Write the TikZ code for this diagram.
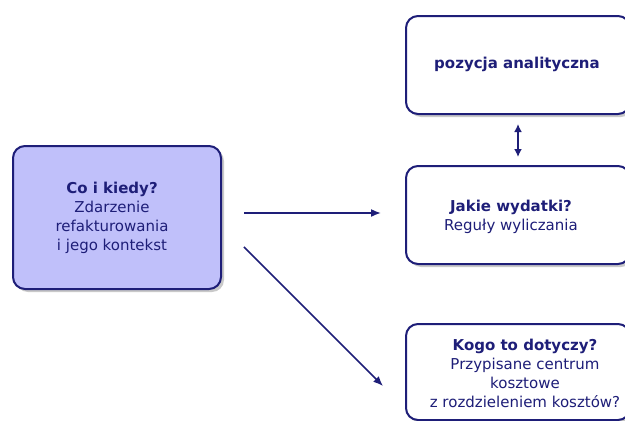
\documentclass[tikz,border=0pt]{standalone}
\usepackage{fontspec}
\setmainfont{DejaVu Sans}
\usetikzlibrary{shadows,arrows.meta}
\definecolor{navy}{HTML}{1E1E78}
\definecolor{lav}{HTML}{C0C0FA}
\tikzset{
  card/.style={draw=navy, line width=2pt, rounded corners=12pt, fill=white,
    drop shadow={shadow xshift=3pt, shadow yshift=-3pt, opacity=0.35, fill=black!60}},
  lbl/.style={text=navy, align=center, font=\fontsize{15}{19}\selectfont, inner sep=0pt},
  conn/.style={draw=navy, line width=1.6pt, -{Latex[length=10pt,width=8pt]}},
  dconn/.style={draw=navy, line width=1.6pt, {Latex[length=8pt,width=8pt]}-{Latex[length=8pt,width=8pt]}}
}
\begin{document}
\begin{tikzpicture}[x=1pt,y=-1pt]
\useasboundingbox (0,0) rectangle (625,421);
\clip (0,0) rectangle (625,421);
\fill[white] (0,0) rectangle (625,421);
% boxes
\node[card, fill=lav, minimum width=208pt, minimum height=143pt, anchor=north west] (left) at (12,145) {};
\node[card, minimum width=224pt, minimum height=98pt, anchor=north west] (top) at (405,15) {};
\node[card, minimum width=224pt, minimum height=98pt, anchor=north west] (mid) at (405,165) {};
\node[card, minimum width=224pt, minimum height=96pt, anchor=north west] (bot) at (405,323) {};
% texts
\node[lbl] (lefttxt) at (112,218) {\textbf{Co i kiedy?}\\Zdarzenie\\refakturowania\\i jego kontekst};
\node[lbl] (toptxt) at (517,64) {\textbf{pozycja analityczna}};
\node[lbl] (midtxt) at (511,217) {\textbf{Jakie wydatki?}\\Reguły wyliczania};
\node[lbl] (bottxt) at (525,373) {\textbf{Kogo to dotyczy?}\\Przypisane centrum\\kosztowe\\z rozdzieleniem kosztów?};
% connectors
\draw[conn, shorten <=22pt, shorten >=24pt] (left.east |- 0,213) -- (mid.west |- 0,213);
\draw[conn, shorten <=31pt, shorten >=31pt] (left.east |- 0,225) -- (bot.west |- 0,408);
\draw[dconn, shorten <=9pt, shorten >=8pt] (top.south -| 518,0) -- (mid.north -| 518,0);
\end{tikzpicture}
\end{document}
